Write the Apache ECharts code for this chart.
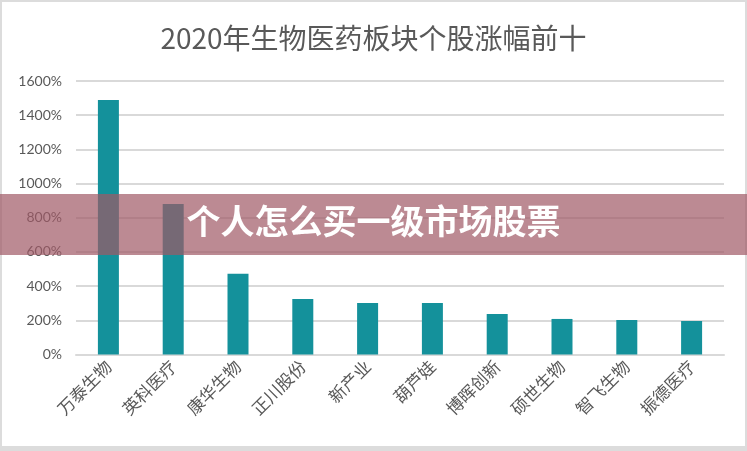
<!DOCTYPE html>
<html>
<head>
<meta charset="utf-8">
<script src="https://cdn.jsdelivr.net/npm/echarts@6/dist/echarts.min.js"></script>
<style>
  html, body { margin: 0; padding: 0; background: #fff; }
  #chart { width: 747px; height: 451px; }
</style>
</head>
<body>
<div id="chart"></div>
<script>
const categories = ['万泰生物', '英科医疗', '康华生物', '正川股份', '新产业', '葫芦娃', '博晖创新', '硕世生物', '智飞生物', '振德医疗']
const gains = [1489, 880, 473, 325, 302, 301, 237, 208, 202, 196]
const yTicks = [0, 200, 400, 600, 800, 1000, 1200, 1400, 1600]
const titleText = '2020年生物医药板块个股涨幅前十'
const bannerText = '个人怎么买一级市场股票'

const chart = echarts.init(document.getElementById('chart'))

chart.setOption({
  animation: false,
  backgroundColor: '#dcdcdc',
  title: {
    text: titleText,
    left: 'center',
    top: 19,
    textStyle: { fontFamily: 'Noto Sans CJK SC', fontSize: 28, fontWeight: 'normal', color: '#595959' },
  },
  grid: { left: 76, right: 23, top: 81, bottom: 96.5 },
  xAxis: {
    type: 'category',
    data: categories,
    axisLine: { lineStyle: { color: '#d9d9d9', width: 2 } },
    axisTick: { show: false },
    axisLabel: {
      rotate: 45,
      interval: 0,
      margin: 9,
      fontFamily: 'Noto Sans CJK SC',
      fontSize: 17,
      color: '#595959',
    },
  },
  yAxis: {
    type: 'value',
    min: yTicks[0],
    max: yTicks[yTicks.length - 1],
    interval: 200,
    axisLine: { show: false },
    axisTick: { show: false },
    splitLine: { lineStyle: { color: '#d9d9d9', width: 2 } },
    axisLabel: {
      margin: 14,
      fontFamily: 'Lato',
      fontSize: 14,
      color: '#595959',
      formatter: v => v + '%',
    },
  },
  series: [{
    type: 'bar',
    data: gains,
    barWidth: 21,
    itemStyle: { color: '#14919b' },
  }],
  graphic: [
    // white card inside the grey frame
    { type: 'rect', z: -10, shape: { x: 2, y: 2, width: 743, height: 444 }, style: { fill: '#ffffff' }, silent: true },
    // watermark banner
    { type: 'rect', z: 100, shape: { x: 0, y: 194, width: 747, height: 61 }, style: { fill: 'rgba(159,88,101,0.7)' }, silent: true },
    {
      type: 'text', z: 101, left: 'center', top: 204,
      style: {
        text: bannerText,
        fill: '#ffffff',
        font: 'bold 34px "Noto Sans CJK SC"',
      },
      silent: true,
    },
  ],
})
</script>
</body>
</html>
